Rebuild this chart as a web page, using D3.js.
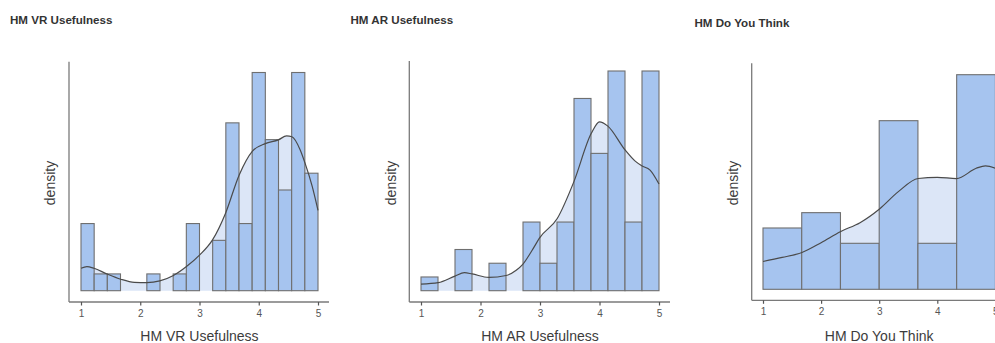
<!DOCTYPE html>
<html>
<head>
<meta charset="utf-8">
<script src="https://cdn.jsdelivr.net/npm/d3@7"></script>
<style>
  html, body { margin: 0; padding: 0; background: #fff; overflow: hidden; }
  svg { display: block; font-family: "Liberation Sans", Arial, Helvetica, sans-serif; }
</style>
</head>
<body>
<svg id="chart" width="995" height="343"></svg>
<script>
// Shared axis ticks and titles
const xTicks = [1, 2, 3, 4, 5];
const panelTitles = ["HM VR Usefulness", "HM AR Usefulness", "HM Do You Think"];
const axisTitles = ["HM VR Usefulness", "HM AR Usefulness", "HM Do You Think"];

// HM VR Usefulness: histogram counts (18 bins over 1..5) and density curve
const vrCounts = [4, 1, 1, 0, 0, 1, 0, 1, 4, 0, 3, 10, 4, 13, 9, 6, 13, 7];
const vrKdeX = [1.0, 1.1, 1.22, 1.44, 1.67, 1.9, 2.11, 2.33, 2.56, 2.78, 3.0, 3.22, 3.44, 3.67, 3.89, 4.11, 4.33, 4.47, 4.56, 4.7, 4.78, 4.9, 5.0];
const vrKdeY = [0.078, 0.084, 0.078, 0.058, 0.040, 0.029, 0.028, 0.034, 0.053, 0.084, 0.124, 0.177, 0.270, 0.403, 0.485, 0.512, 0.525, 0.539, 0.536, 0.490, 0.445, 0.365, 0.280];

// HM AR Usefulness: histogram counts (14 bins over 1..5) and density curve
const arCounts = [1, 0, 3, 0, 2, 0, 5, 2, 5, 14, 10, 16, 5, 16];
const arKdeX = [1.0, 1.29, 1.57, 1.73, 1.86, 2.14, 2.43, 2.6, 2.71, 2.86, 3.0, 3.29, 3.57, 3.86, 4.0, 4.14, 4.43, 4.6, 4.71, 4.85, 5.0];
const arKdeY = [0.0215, 0.026, 0.047, 0.058, 0.054, 0.043, 0.049, 0.066, 0.085, 0.128, 0.172, 0.233, 0.352, 0.507, 0.545, 0.531, 0.454, 0.418, 0.403, 0.389, 0.344];

// HM Do You Think: histogram counts (6 bins over 1..5) and density curve
const dytCounts = [4, 5, 3, 11, 3, 14];
const dytKdeX = [1.0, 1.33, 1.67, 2.0, 2.33, 2.67, 3.0, 3.33, 3.67, 4.0, 4.33, 4.67, 4.83, 5.0];
const dytKdeY = [0.068, 0.078, 0.090, 0.114, 0.141, 0.163, 0.196, 0.239, 0.271, 0.274, 0.271, 0.296, 0.302, 0.296];

const panels = [
  { title: panelTitles[0], axisTitle: axisTitles[0], counts: vrCounts, kx: vrKdeX, ky: vrKdeY,
    x1: 81, x5: 318, yAxisX: 69, axisRight: 329, axisY: 302, base: 290.7, top: 72.5, axisTop: 61.7,
    titleX: 10, titleY: 24, ylabX: 54.5 },
  { title: panelTitles[1], axisTitle: axisTitles[1], counts: arCounts, kx: arKdeX, ky: arKdeY,
    x1: 421, x5: 659, yAxisX: 409.3, axisRight: 670, axisY: 302, base: 290.7, top: 71, axisTop: 61,
    titleX: 350.5, titleY: 23.5, ylabX: 395.5 },
  { title: panelTitles[2], axisTitle: axisTitles[2], counts: dytCounts, kx: dytKdeX, ky: dytKdeY,
    x1: 763, x5: 995.4, yAxisX: 751.7, axisRight: 1010, axisY: 300.3, base: 289.3, top: 74.7, axisTop: 63.3,
    titleX: 694.5, titleY: 27, ylabX: 737.5 }
];

const svg = d3.select("#chart");

panels.forEach(p => {
  const g = svg.append("g");
  const n = d3.sum(p.counts);
  const binW = 4 / p.counts.length;
  const bins = p.counts.map((c, i) => ({ x0: 1 + i * binW, x1: 1 + (i + 1) * binW, d: c / (n * binW) }));
  const maxD = d3.max(bins, b => b.d);

  const x = d3.scaleLinear().domain([1, 5]).range([p.x1, p.x5]);
  const y = d3.scaleLinear().domain([0, maxD]).range([p.base, p.top]);

  const kde = p.kx.map((v, i) => [v, p.ky[i]]);

  // density area under the curve
  g.append("path")
    .datum(kde)
    .attr("fill", "#dce6f7")
    .attr("stroke", "none")
    .attr("d", d3.area().curve(d3.curveMonotoneX)
      .x(d => x(d[0])).y0(y(0)).y1(d => y(d[1])));

  // histogram bars
  g.selectAll("rect.bar")
    .data(bins.filter(b => b.d > 0))
    .join("rect")
    .attr("class", "bar")
    .attr("x", b => x(b.x0))
    .attr("width", b => x(b.x1) - x(b.x0))
    .attr("y", b => y(b.d))
    .attr("height", b => y(0) - y(b.d))
    .attr("fill", "#a6c4ef")
    .attr("stroke", "#6f6f6f")
    .attr("stroke-width", 1.1);

  // density curve
  g.append("path")
    .datum(kde)
    .attr("fill", "none")
    .attr("stroke", "#4a4a4a")
    .attr("stroke-width", 1.2)
    .attr("d", d3.line().curve(d3.curveMonotoneX).x(d => x(d[0])).y(d => y(d[1])));

  // axis lines
  g.append("line")
    .attr("x1", p.yAxisX).attr("x2", p.yAxisX)
    .attr("y1", p.axisTop).attr("y2", p.axisY)
    .attr("stroke", "#7a7a7a").attr("stroke-width", 1.3);
  g.append("line")
    .attr("x1", p.yAxisX).attr("x2", p.axisRight)
    .attr("y1", p.axisY).attr("y2", p.axisY)
    .attr("stroke", "#7a7a7a").attr("stroke-width", 1.3);

  // x ticks and labels
  const ax = g.append("g")
    .attr("transform", `translate(0,${p.axisY})`)
    .call(d3.axisBottom(x).tickValues(xTicks).tickSize(3.5).tickSizeOuter(0).tickPadding(4).tickFormat(d3.format("d")));
  ax.select(".domain").remove();
  ax.selectAll(".tick line").attr("stroke", "#555").attr("stroke-width", 1.2);
  ax.selectAll(".tick text")
    .attr("fill", "#555")
    .style("font-size", "10px")
    .style("font-family", "'Liberation Sans', Arial, sans-serif");

  // axis titles
  g.append("text")
    .attr("x", (p.x1 + p.x5) / 2)
    .attr("y", 341)
    .attr("text-anchor", "middle")
    .attr("fill", "#3c3c3c")
    .style("font-size", "14px")
    .text(p.axisTitle);

  g.append("text")
    .attr("transform", `translate(${p.ylabX},183) rotate(-90)`)
    .attr("text-anchor", "middle")
    .attr("fill", "#3c3c3c")
    .style("font-size", "14px")
    .text("density");

  // panel title
  g.append("text")
    .attr("x", p.titleX)
    .attr("y", p.titleY)
    .attr("fill", "#333")
    .style("font-size", "11.6px")
    .style("font-weight", "bold")
    .text(p.title);
});
</script>
</body>
</html>
